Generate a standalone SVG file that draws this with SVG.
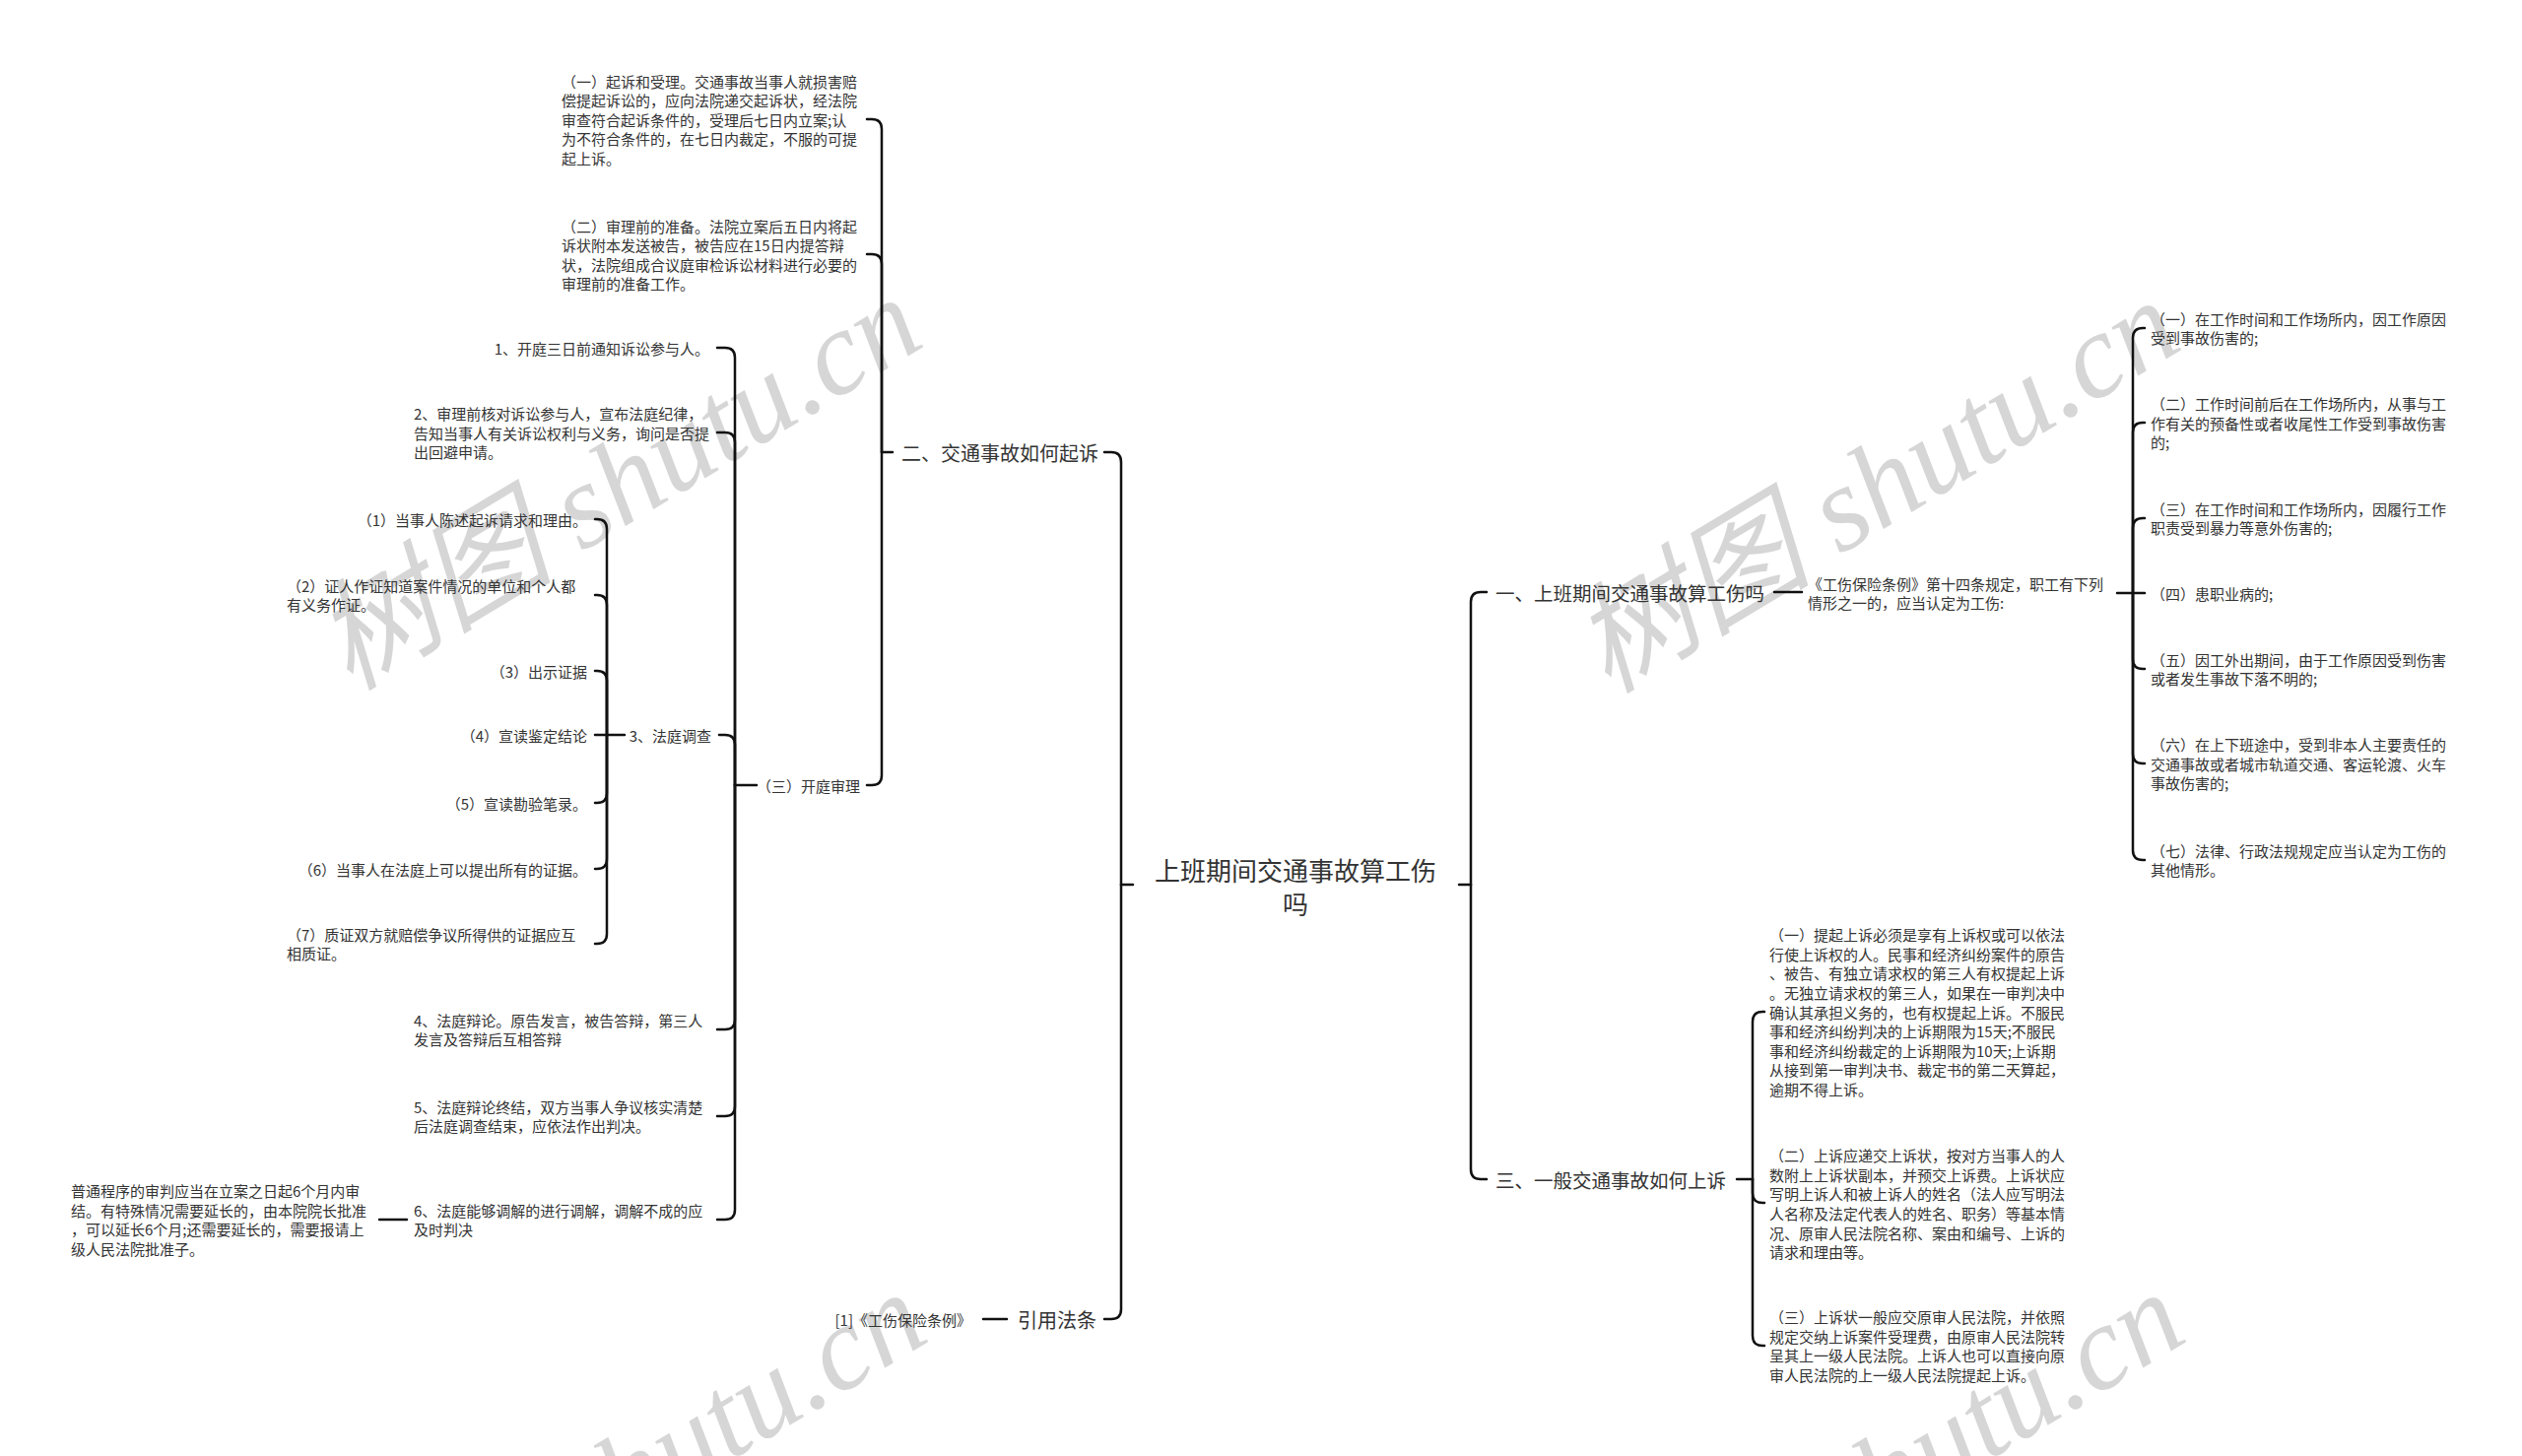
<svg xmlns="http://www.w3.org/2000/svg" width="2560" height="1478" viewBox="0 0 2560 1478">
<style>
.t{font-family:"Noto Sans CJK SC","Noto Sans",sans-serif;fill:#333;font-size:15px;dominant-baseline:central}
.m{font-size:20px}
.m2{font-size:19.5px}
.r{font-size:26px}
.e{text-anchor:end}
.mid{text-anchor:middle}
.c path{fill:none;stroke:#111;stroke-width:2.5;stroke-linecap:round;stroke-linejoin:round}
.wm{font-family:"Liberation Serif","Noto Sans CJK SC",serif;font-style:italic;font-size:122px;fill:#d6d6d6}
</style>
<rect width="2560" height="1478" fill="#fff"/>
<g id="watermarks">
<text class="wm" transform="translate(355,702) rotate(-31)">树图 shutu.cn</text>
<text class="wm" transform="translate(1632,705) rotate(-31)">树图 shutu.cn</text>
<text class="wm" transform="translate(360,1712) rotate(-31)">树图 shutu.cn</text>
<text class="wm" transform="translate(1637,1712) rotate(-31)">树图 shutu.cn</text>
</g>
<g id="connectors" class="c">
<path d="M1150,898 L1138,898"/>
<path d="M1138,898 L1138,469 Q1138,459 1128,459 L1121,459"/>
<path d="M1138,898 L1138,1329 Q1138,1339 1128,1339 L1121,1339"/>
<path d="M1481,898 L1493,898"/>
<path d="M1493,898 L1493,611 Q1493,601 1503,601 L1509,601"/>
<path d="M1493,898 L1493,1187 Q1493,1197 1503,1197 L1509,1197"/>
<path d="M906,459 L895,459"/>
<path d="M895,459 L895,131 Q895,121 885,121 L880,121"/>
<path d="M895,459 L895,268 Q895,258 885,258 L880,258"/>
<path d="M895,459 L895,787 Q895,797 885,797 L880,797"/>
<path d="M768,797 L746,797"/>
<path d="M746,797 L746,363 Q746,353 736,353 L728,353"/>
<path d="M746,797 L746,449 Q746,439 736,439 L728,439"/>
<path d="M746,797 L746,756 Q746,746 736,746 L730,746"/>
<path d="M746,797 L746,1035 Q746,1045 736,1045 L728,1045"/>
<path d="M746,797 L746,1123 Q746,1133 736,1133 L728,1133"/>
<path d="M746,797 L746,1228 Q746,1238 736,1238 L728,1238"/>
<path d="M634,746 L616,746"/>
<path d="M616,746 L616,537 Q616,527 606,527 L604,527"/>
<path d="M616,746 L616,614 Q616,604 606,604 L604,604"/>
<path d="M616,746 L616,691 Q616,681 606,681 L604,681"/>
<path d="M616,746 L604,746"/>
<path d="M616,746 L616,805 Q616,815 606,815 L604,815"/>
<path d="M616,746 L616,872 Q616,882 606,882 L604,882"/>
<path d="M616,746 L616,948 Q616,958 606,958 L604,958"/>
<path d="M413,1238 L385,1238"/>
<path d="M1022,1339 L998,1339"/>
<path d="M1801,601 L1829,601"/>
<path d="M2149,602 L2165,602"/>
<path d="M2165,602 L2165,343 Q2165,333 2175,333 L2177,333"/>
<path d="M2165,602 L2165,439 Q2165,429 2175,429 L2177,429"/>
<path d="M2165,602 L2165,536 Q2165,526 2175,526 L2177,526"/>
<path d="M2165,602 L2177,602"/>
<path d="M2165,602 L2165,669 Q2165,679 2175,679 L2177,679"/>
<path d="M2165,602 L2165,765 Q2165,775 2175,775 L2177,775"/>
<path d="M2165,602 L2165,863 Q2165,873 2175,873 L2177,873"/>
<path d="M1763,1197 L1779,1197"/>
<path d="M1779,1197 L1779,1037 Q1779,1027 1789,1027 L1791,1027"/>
<path d="M1779,1197 L1779,1211 Q1779,1221 1789,1221 L1791,1221"/>
<path d="M1779,1197 L1779,1356 Q1779,1366 1789,1366 L1791,1366"/>
</g>
<g id="root"><text class="t r mid" x="1315" y="882">上班期间交通事故算工伤</text><text class="t r mid" x="1315" y="916">吗</text></g>
<g id="n-er"><text class="t m e" x="1115" y="459">二、交通事故如何起诉</text></g>
<g id="n-yinyong"><text class="t m e" x="1113" y="1339">引用法条</text></g>
<g id="n-yi"><text class="t m2" x="1518" y="601">一、上班期间交通事故算工伤吗</text></g>
<g id="n-san"><text class="t m2" x="1518" y="1197">三、一般交通事故如何上诉</text></g>
<g id="n-qisu">
<text class="t" x="570" y="82">（一）起诉和受理。交通事故当事人就损害赔</text>
<text class="t" x="570" y="101.6">偿提起诉讼的，应向法院递交起诉状，经法院</text>
<text class="t" x="570" y="121.2">审查符合起诉条件的，受理后七日内立案;认</text>
<text class="t" x="570" y="140.8">为不符合条件的，在七日内裁定，不服的可提</text>
<text class="t" x="570" y="160.4">起上诉。</text>
</g>
<g id="n-zhunbei">
<text class="t" x="570" y="229">（二）审理前的准备。法院立案后五日内将起</text>
<text class="t" x="570" y="248.6">诉状附本发送被告，被告应在15日内提答辩</text>
<text class="t" x="570" y="268.2">状，法院组成合议庭审检诉讼材料进行必要的</text>
<text class="t" x="570" y="287.8">审理前的准备工作。</text>
</g>
<g id="n-kaiting"><text class="t e" x="873" y="797">（三）开庭审理</text></g>
<g id="n-1"><text class="t e" x="720" y="353">1、开庭三日前通知诉讼参与人。</text></g>
<g id="n-2">
<text class="t" x="420" y="419.4">2、审理前核对诉讼参与人，宣布法庭纪律，</text>
<text class="t" x="420" y="439">告知当事人有关诉讼权利与义务，询问是否提</text>
<text class="t" x="420" y="458.6">出回避申请。</text>
</g>
<g id="n-3"><text class="t e" x="722" y="746">3、法庭调查</text></g>
<g id="n-3-1"><text class="t e" x="596" y="527">（1）当事人陈述起诉请求和理由。</text></g>
<g id="n-3-2">
<text class="t" x="291" y="594.2">（2）证人作证知道案件情况的单位和个人都</text>
<text class="t" x="291" y="613.8">有义务作证。</text>
</g>
<g id="n-3-3"><text class="t e" x="596" y="681">（3）出示证据</text></g>
<g id="n-3-4"><text class="t e" x="596" y="746">（4）宣读鉴定结论</text></g>
<g id="n-3-5"><text class="t e" x="596" y="815">（5）宣读勘验笔录。</text></g>
<g id="n-3-6"><text class="t e" x="596" y="882">（6）当事人在法庭上可以提出所有的证据。</text></g>
<g id="n-3-7">
<text class="t" x="291" y="948.2">（7）质证双方就赔偿争议所得供的证据应互</text>
<text class="t" x="291" y="967.8">相质证。</text>
</g>
<g id="n-4">
<text class="t" x="420" y="1035.2">4、法庭辩论。原告发言，被告答辩，第三人</text>
<text class="t" x="420" y="1054.8">发言及答辩后互相答辩</text>
</g>
<g id="n-5">
<text class="t" x="420" y="1123.2">5、法庭辩论终结，双方当事人争议核实清楚</text>
<text class="t" x="420" y="1142.8">后法庭调查结束，应依法作出判决。</text>
</g>
<g id="n-6">
<text class="t" x="420" y="1228.2">6、法庭能够调解的进行调解，调解不成的应</text>
<text class="t" x="420" y="1247.8">及时判决</text>
</g>
<g id="n-6-1">
<text class="t" x="72" y="1208.6">普通程序的审判应当在立案之日起6个月内审</text>
<text class="t" x="72" y="1228.2">结。有特殊情况需要延长的，由本院院长批准</text>
<text class="t" x="72" y="1247.8">，可以延长6个月;还需要延长的，需要报请上</text>
<text class="t" x="72" y="1267.4">级人民法院批准子。</text>
</g>
<g id="n-law"><text class="t e" x="986" y="1339">[1]《工伤保险条例》</text></g>
<g id="n-tiaoli">
<text class="t" x="1835" y="592.2">《工伤保险条例》第十四条规定，职工有下列</text>
<text class="t" x="1835" y="611.8">情形之一的，应当认定为工伤:</text>
</g>
<g id="n-r1">
<text class="t" x="2183" y="323.2">（一）在工作时间和工作场所内，因工作原因</text>
<text class="t" x="2183" y="342.8">受到事故伤害的;</text>
</g>
<g id="n-r2">
<text class="t" x="2183" y="409.4">（二）工作时间前后在工作场所内，从事与工</text>
<text class="t" x="2183" y="429">作有关的预备性或者收尾性工作受到事故伤害</text>
<text class="t" x="2183" y="448.6">的;</text>
</g>
<g id="n-r3">
<text class="t" x="2183" y="516.2">（三）在工作时间和工作场所内，因履行工作</text>
<text class="t" x="2183" y="535.8">职责受到暴力等意外伤害的;</text>
</g>
<g id="n-r4"><text class="t" x="2183" y="602">（四）患职业病的;</text></g>
<g id="n-r5">
<text class="t" x="2183" y="669.2">（五）因工外出期间，由于工作原因受到伤害</text>
<text class="t" x="2183" y="688.8">或者发生事故下落不明的;</text>
</g>
<g id="n-r6">
<text class="t" x="2183" y="755.4">（六）在上下班途中，受到非本人主要责任的</text>
<text class="t" x="2183" y="775">交通事故或者城市轨道交通、客运轮渡、火车</text>
<text class="t" x="2183" y="794.6">事故伤害的;</text>
</g>
<g id="n-r7">
<text class="t" x="2183" y="863.2">（七）法律、行政法规规定应当认定为工伤的</text>
<text class="t" x="2183" y="882.8">其他情形。</text>
</g>
<g id="n-s1">
<text class="t" x="1796" y="948.6">（一）提起上诉必须是享有上诉权或可以依法</text>
<text class="t" x="1796" y="968.2">行使上诉权的人。民事和经济纠纷案件的原告</text>
<text class="t" x="1796" y="987.8">、被告、有独立请求权的第三人有权提起上诉</text>
<text class="t" x="1796" y="1007.4">。无独立请求权的第三人，如果在一审判决中</text>
<text class="t" x="1796" y="1027">确认其承担义务的，也有权提起上诉。不服民</text>
<text class="t" x="1796" y="1046.6">事和经济纠纷判决的上诉期限为15天;不服民</text>
<text class="t" x="1796" y="1066.2">事和经济纠纷裁定的上诉期限为10天;上诉期</text>
<text class="t" x="1796" y="1085.8">从接到第一审判决书、裁定书的第二天算起，</text>
<text class="t" x="1796" y="1105.4">逾期不得上诉。</text>
</g>
<g id="n-s2">
<text class="t" x="1796" y="1172.6">（二）上诉应递交上诉状，按对方当事人的人</text>
<text class="t" x="1796" y="1192.2">数附上上诉状副本，并预交上诉费。上诉状应</text>
<text class="t" x="1796" y="1211.8">写明上诉人和被上诉人的姓名（法人应写明法</text>
<text class="t" x="1796" y="1231.4">人名称及法定代表人的姓名、职务）等基本情</text>
<text class="t" x="1796" y="1251">况、原审人民法院名称、案由和编号、上诉的</text>
<text class="t" x="1796" y="1270.6">请求和理由等。</text>
</g>
<g id="n-s3">
<text class="t" x="1796" y="1336.6">（三）上诉状一般应交原审人民法院，并依照</text>
<text class="t" x="1796" y="1356.2">规定交纳上诉案件受理费，由原审人民法院转</text>
<text class="t" x="1796" y="1375.8">呈其上一级人民法院。上诉人也可以直接向原</text>
<text class="t" x="1796" y="1395.4">审人民法院的上一级人民法院提起上诉。</text>
</g>
</svg>
